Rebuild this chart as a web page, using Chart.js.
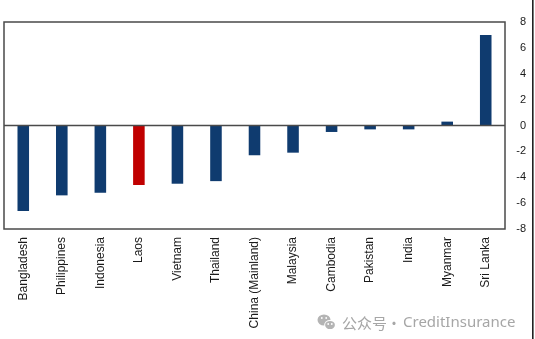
<!DOCTYPE html>
<html>
<head>
<meta charset="utf-8">
<script src="https://cdn.jsdelivr.net/npm/chart.js@4/dist/chart.umd.min.js"></script>
<style>
  html, body { margin: 0; padding: 0; background: #fff; }
  #wrap { width: 535px; height: 339px; position: relative; }
</style>
</head>
<body>
<div id="wrap"><canvas id="chart"></canvas></div>
<script>
const countries = ['Bangladesh', 'Philippines', 'Indonesia', 'Laos', 'Vietnam', 'Thailand',
  'China (Mainland)', 'Malaysia', 'Cambodia', 'Pakistan', 'India', 'Myanmar', 'Sri Lanka'];
const change = [-6.6, -5.4, -5.2, -4.6, -4.5, -4.3, -2.3, -2.1, -0.5, -0.3, -0.3, 0.3, 7.0];
const highlight = 'Laos';
const yTicks = [8, 6, 4, 2, 0, -2, -4, -6, -8];

const NAVY = '#0f3b6f';
const RED = '#c00000';

// frame round the plot, zero line over the bars, page edge and watermark
const decorations = {
  id: 'decorations',
  afterDatasetsDraw(chart) {
    const { ctx, chartArea: a } = chart;
    const y0 = chart.scales.y.getPixelForValue(0);
    ctx.save();
    ctx.strokeStyle = '#4a4a4a';
    ctx.lineWidth = 1.5;
    ctx.strokeRect(a.left, a.top, a.right - a.left, a.bottom - a.top);
    ctx.beginPath();
    ctx.moveTo(a.left, y0);
    ctx.lineTo(a.right, y0);
    ctx.stroke();
    ctx.restore();
  },
  afterDraw(chart) {
    const { ctx } = chart;
    ctx.save();
    ctx.fillStyle = '#222';
    ctx.fillRect(532, 0, 1.6, 339);

    // wechat mark
    const grey = '#b4b4b4';
    ctx.fillStyle = grey;
    ctx.beginPath();
    ctx.ellipse(324, 320, 6.5, 5.6, 0, 0, Math.PI * 2);
    ctx.fill();
    ctx.fillStyle = '#fff';
    ctx.beginPath();
    ctx.ellipse(330, 325, 5.8, 4.9, 0, 0, Math.PI * 2);
    ctx.fill();
    ctx.fillStyle = grey;
    ctx.beginPath();
    ctx.ellipse(330, 325, 4.9, 4.1, 0, 0, Math.PI * 2);
    ctx.fill();
    ctx.fillStyle = '#fff';
    [[321.8, 318], [326.2, 318], [328.2, 324], [331.8, 324]].forEach(([x, y]) => {
      ctx.beginPath();
      ctx.arc(x, y, 0.9, 0, Math.PI * 2);
      ctx.fill();
    });

    ctx.fillStyle = '#a6a6a6';
    ctx.textBaseline = 'middle';
    ctx.font = '15px "Noto Sans CJK SC", "Noto Sans", sans-serif';
    ctx.fillText('公众号', 342, 323);
    ctx.textAlign = 'center';
    ctx.fillText('·', 394, 323);
    ctx.textAlign = 'left';
    ctx.font = '15px "Noto Sans", sans-serif';
    ctx.fillText('CreditInsurance', 403, 323);
    ctx.restore();
  }
};

new Chart(document.getElementById('chart'), {
  type: 'bar',
  data: {
    labels: countries,
    datasets: [{
      data: change,
      backgroundColor: countries.map(c => (c === highlight ? RED : NAVY)),
      barPercentage: 0.3,
      categoryPercentage: 1
    }]
  },
  options: {
    responsive: true,
    maintainAspectRatio: false,
    animation: false,
    // right padding leaves room for the page edge; y labels right-align at 526
    layout: { padding: { top: 22, left: 4, right: 9, bottom: 0 } },
    plugins: { legend: { display: false }, tooltip: { enabled: false } },
    scales: {
      x: {
        grid: { display: false, drawTicks: false },
        border: { display: false },
        ticks: {
          color: '#1a1a1a',
          font: { family: '"Liberation Sans", Arial, sans-serif', size: 12 },
          minRotation: 90,
          maxRotation: 90,
          autoSkip: false,
          padding: 8
        },
        afterFit(scale) { scale.height = 110; }
      },
      y: {
        position: 'right',
        min: -8,
        max: 8,
        afterBuildTicks(scale) { scale.ticks = yTicks.map(v => ({ value: v })); },
        grid: { display: false, drawTicks: false },
        border: { display: false },
        ticks: {
          color: '#1a1a1a',
          font: { family: '"Liberation Sans", Arial, sans-serif', size: 11 },
          crossAlign: 'far',
          padding: 3
        },
        afterFit(scale) { scale.width = 21; }
      }
    }
  },
  plugins: [decorations]
});
</script>
</body>
</html>
